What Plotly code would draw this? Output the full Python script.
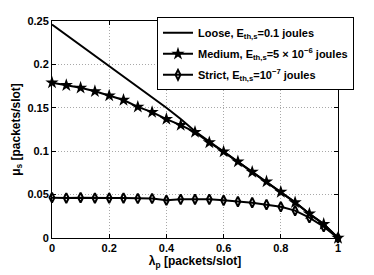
import plotly.graph_objects as go

lam = [0.0, 0.05, 0.1, 0.15, 0.2, 0.25, 0.3, 0.35, 0.4, 0.45, 0.5,
       0.55, 0.6, 0.65, 0.7, 0.75, 0.8, 0.85, 0.9, 0.95, 1.0]
loose = [0.246, 0.234, 0.222, 0.210, 0.199, 0.187, 0.175, 0.162, 0.150, 0.137, 0.123,
         0.111, 0.0995, 0.088, 0.076, 0.065, 0.053, 0.041, 0.028, 0.016, 0.0]
medium = [0.179, 0.176, 0.173, 0.169, 0.164, 0.159, 0.151, 0.145, 0.137, 0.130, 0.122,
          0.110, 0.0995, 0.088, 0.076, 0.065, 0.053, 0.041, 0.028, 0.016, 0.0]
strict = [0.0465, 0.046, 0.0465, 0.046, 0.046, 0.046, 0.0455, 0.0455, 0.0435, 0.0445, 0.0446,
          0.0446, 0.0434, 0.042, 0.0407, 0.0384, 0.036, 0.0315, 0.0234, 0.013, 0.0]

names = ["Loose, E<sub>th,s</sub>=0.1 joules",
         "Medium, E<sub>th,s</sub>=5 × 10<sup>−6</sup> joules",
         "Strict, E<sub>th,s</sub>=10<sup>−7</sup> joules"]

xticks = [0, 0.2, 0.4, 0.6, 0.8, 1]
xticktext = ["0", "0.2", "0.4", "0.6", "0.8", "1"]
yticks = [0, 0.05, 0.1, 0.15, 0.2, 0.25]
yticktext = ["0", "0.05", "0.1", "0.15", "0.2", "0.25"]

FAM = "Liberation Sans, Arial, sans-serif"

fig = go.Figure()
fig.add_trace(go.Scatter(x=lam, y=loose, mode="lines", name=names[0], legendgroup="a",
                         line=dict(color="black", width=2), cliponaxis=False))
fig.add_trace(go.Scatter(x=lam, y=medium, mode="lines+markers", name=names[1], legendgroup="b",
                         line=dict(color="black", width=2),
                         marker=dict(symbol="star", size=10, color="black"),
                         cliponaxis=False))
fig.add_trace(go.Scatter(x=lam, y=strict, mode="lines+markers", name=names[2], legendgroup="c",
                         line=dict(color="black", width=2),
                         marker=dict(symbol="diamond-tall-open", size=7, color="black",
                                     line=dict(width=2)),
                         cliponaxis=False))

tickfont = dict(family=FAM, size=11, color="black", weight="bold")
axis_common = dict(showline=True, linecolor="black", linewidth=1, mirror="ticks",
                   ticks="inside", ticklen=4, tickcolor="black",
                   showgrid=True, gridcolor="#a8a8a8", griddash="1px,2px", gridwidth=1,
                   zeroline=False, tickfont=tickfont, automargin=False)

fig.update_layout(
    width=374, height=275,
    margin=dict(l=52, r=36, t=21, b=37, autoexpand=False),
    paper_bgcolor="white", plot_bgcolor="white",
    font=dict(family=FAM, color="black", size=11, weight="bold"),
    xaxis=dict(range=[0, 1], tickvals=xticks, ticktext=xticktext,
               title=dict(text="λ<sub>p</sub> [packets/slot]",
                          font=dict(family=FAM, size=12, color="black", weight="bold"), standoff=0),
               **axis_common),
    yaxis=dict(range=[0, 0.25], tickvals=yticks, ticktext=yticktext,
               title=dict(text="μ<sub>s</sub> [packets/slot]",
                          font=dict(family=FAM, size=12, color="black", weight="bold"), standoff=4),
               **axis_common),
    legend=dict(xref="container", yref="container", x=0.9465, y=0.937,
                xanchor="right", yanchor="top",
                bgcolor="white", bordercolor="black", borderwidth=1,
                font=dict(family=FAM, size=11, color="black", weight="bold"),
                itemwidth=30, tracegroupgap=2),
    showlegend=True,
)

fig.write_html("out.html", config={"displayModeBar": False},
               post_script="document.body.style.margin='0';")
